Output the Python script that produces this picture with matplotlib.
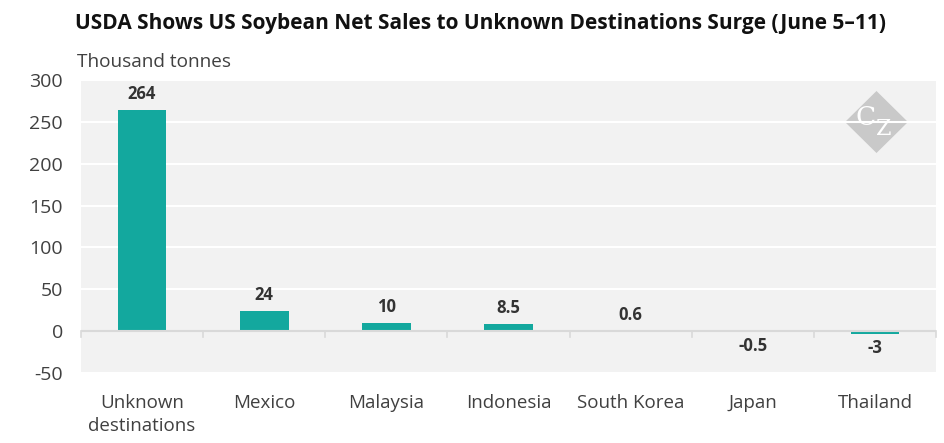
import matplotlib
matplotlib.use("Agg")
import matplotlib.pyplot as plt
from matplotlib.patches import Polygon

categories = ["Unknown\ndestinations", "Mexico", "Malaysia", "Indonesia", "South Korea", "Japan", "Thailand"]
values = [264, 24, 10, 8.5, 0.6, -0.5, -3]
labels = ["264", "24", "10", "8.5", "0.6", "-0.5", "-3"]
yticks = [-50, 0, 50, 100, 150, 200, 250, 300]

plt.rcParams['font.family'] = ['Open Sans', 'DejaVu Sans']

fig = plt.figure(figsize=(9.45, 4.43), dpi=100)
ax = fig.add_axes([0.0857, 0.158, 0.9048, 0.6614])
ax.set_facecolor("#f2f2f2")
bar_color = "#13a89e"
x = list(range(len(categories)))
ax.bar(x, values, width=0.4, color=bar_color, zorder=3)

ax.set_xlim(-0.5, len(categories) - 0.5)
ax.set_ylim(-50, 300)
ax.set_yticks(yticks)
ax.set_yticklabels([str(t) for t in yticks], fontsize=14, color="#404040")
ax.yaxis.grid(True, color="white", linewidth=1.5, zorder=1)
ax.set_axisbelow(True)
for s in ax.spines.values():
    s.set_visible(False)
ax.tick_params(axis="y", length=0, pad=13)
ax.set_xticks(x)
ax.set_xticklabels(categories, fontsize=13.5, color="#404040", linespacing=1.4)
ax.tick_params(axis="x", length=0, pad=15)

# zero line with category separators
ax.axhline(0, color="#d9d9d9", linewidth=1.5, zorder=4)
for b in [i - 0.5 for i in range(len(categories) + 1)]:
    ax.plot([b, b], [0, -7], color="#d9d9d9", linewidth=1.2, zorder=4, clip_on=False)

for xi, v, lab in zip(x, values, labels):
    if v >= 0:
        ax.annotate(lab, (xi, v), xytext=(0, 5), textcoords="offset points",
                    ha="center", va="bottom", fontsize=12, fontweight="bold", color="#333333")
    else:
        ax.annotate(lab, (xi, v), xytext=(0, -4), textcoords="offset points",
                    ha="center", va="top", fontsize=12, fontweight="bold", color="#333333")

# logo (behind gridlines)
cx, cy, rx, ry = 0.9275, 0.7246, 0.0333, 0.070
diamond = Polygon([(cx, cy + ry), (cx + rx, cy), (cx, cy - ry), (cx - rx, cy)],
                  closed=True, transform=fig.transFigure, facecolor="#c9c9c9",
                  edgecolor="none", zorder=0.3)
ax.add_patch(diamond)
fig.text(0.9164, 0.735, "C", ha="center", va="center",
         fontsize=19, color="white", family="DejaVu Serif", zorder=6)
fig.text(0.9350, 0.708, "Z", ha="center", va="center",
         fontsize=16, color="white", family="DejaVu Serif", zorder=6)

fig.text(0.0794, 0.948, "USDA Shows US Soybean Net Sales to Unknown Destinations Surge (June 5\u201311)",
         fontsize=15, fontweight="bold", color="#111111", ha="left", va="center")
fig.text(0.0815, 0.86, "Thousand tonnes", fontsize=13.7, color="#404040", ha="left", va="center")

fig.savefig("out.png", dpi=100)
